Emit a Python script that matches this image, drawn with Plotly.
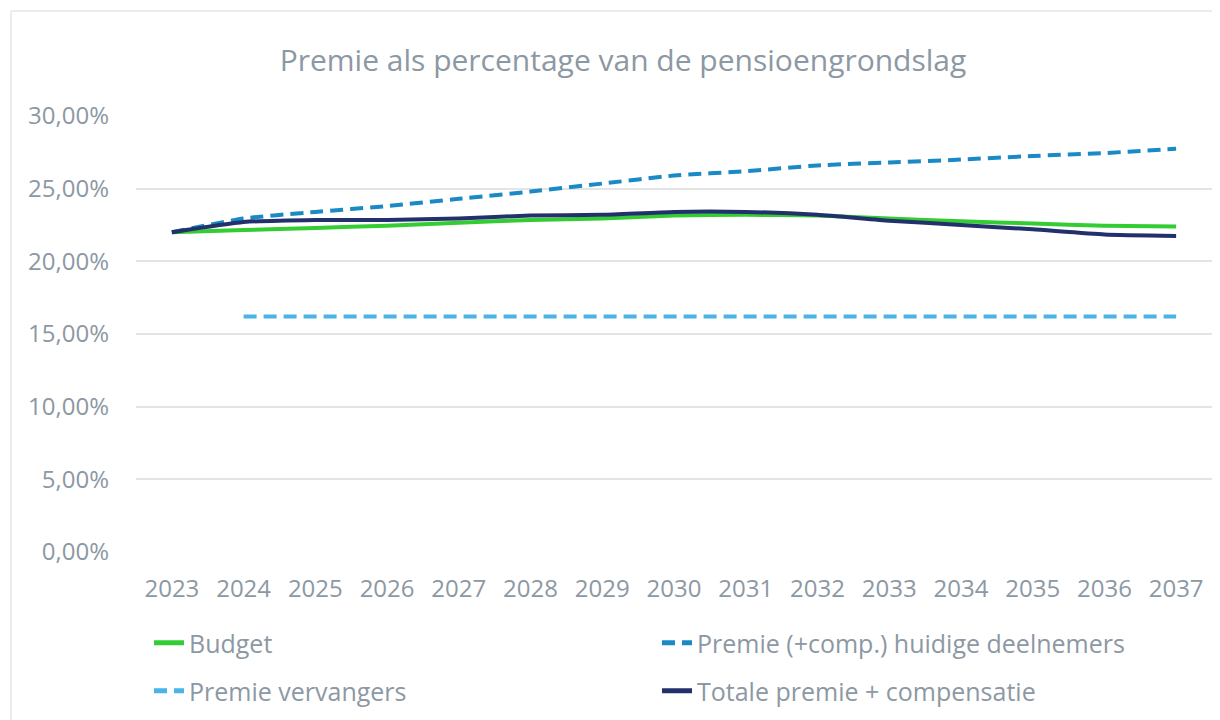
import plotly.graph_objects as go

years = [str(y) for y in range(2023, 2038)]
budget = [22.0, 22.15, 22.3, 22.45, 22.65, 22.85, 22.95, 23.15, 23.2, 23.15, 22.95, 22.75, 22.6, 22.45, 22.4]
huidige = [22.0, 22.95, 23.4, 23.8, 24.3, 24.8, 25.35, 25.9, 26.2, 26.6, 26.8, 27.0, 27.25, 27.45, 27.75]
vervangers = [None, 16.2, 16.2, 16.2, 16.2, 16.2, 16.2, 16.2, 16.2, 16.2, 16.2, 16.2, 16.2, 16.2, 16.2]
totale = [22.0, 22.7, 22.85, 22.85, 22.95, 23.15, 23.2, 23.4, 23.4, 23.2, 22.8, 22.5, 22.2, 21.85, 21.75]
yticks = [0, 5, 10, 15, 20, 25, 30]
ytext = ["0,00%", "5,00%", "10,00%", "15,00%", "20,00%", "25,00%", "30,00%"]

FONT = "Open Sans"
TXT = "#8c98a3"

fig = go.Figure()
fig.add_trace(go.Scatter(x=years, y=budget, name="Budget", mode="lines",
                         line=dict(color="#33cc33", width=4, shape="spline", smoothing=0.5),
                         legend="legend"))
fig.add_trace(go.Scatter(x=years, y=huidige, name="Premie (+comp.) huidige deelnemers", mode="lines",
                         line=dict(color="#1a8ac6", width=4, dash="13px,7px", shape="spline", smoothing=0.5),
                         legend="legend"))
fig.add_trace(go.Scatter(x=years, y=vervangers, name="Premie vervangers", mode="lines",
                         line=dict(color="#4ab4e6", width=4, dash="13px,7px"),
                         legend="legend2"))
fig.add_trace(go.Scatter(x=years, y=totale, name="Totale premie + compensatie", mode="lines",
                         line=dict(color="#22306b", width=4, shape="spline", smoothing=0.5),
                         legend="legend2"))

# page body has an 8px margin; work in screen coordinates and shift
OFF = 8
W, H = 1220, 720
SL, SR, ST, SB = 136, 1212, 116, 552   # plot area in screen px
L, T = SL - OFF, ST - OFF
R = W - (SR - OFF)
B = H - (SB - OFF)
pw, ph = W - L - R, H - T - B

def px(x):
    return (x - OFF - L) / pw

def py(y):
    return (H - B - (y - OFF)) / ph

leg_common = dict(orientation="h", entrywidth=463, entrywidthmode="pixels",
                  font=dict(family=FONT, size=25, color=TXT),
                  bgcolor="rgba(0,0,0,0)", xanchor="left", yanchor="middle",
                  itemsizing="constant")

fig.update_layout(
    width=W, height=H,
    margin=dict(l=L, r=R, t=T, b=B, autoexpand=False),
    paper_bgcolor="white", plot_bgcolor="white",
    font=dict(family=FONT, color=TXT),
    title=dict(text="Premie als percentage van de pensioengrondslag",
               x=(623 - OFF) / W, xanchor="center", xref="container",
               y=1 - (60 - OFF) / H, yanchor="middle", yref="container",
               font=dict(family=FONT, size=30, color=TXT)),
    xaxis=dict(type="category", range=[-0.5, len(years) - 0.5], showgrid=False, showline=False,
               zeroline=False, ticks="", tickfont=dict(family=FONT, size=24, color=TXT),
               ticklabelstandoff=20),
    yaxis=dict(range=[0, 30], tickvals=yticks, ticktext=ytext,
               showgrid=True, gridcolor="#e4e4e4", gridwidth=1.5, zeroline=False,
               showline=False, ticks="", tickfont=dict(family=FONT, size=24, color=TXT),
               ticklabelstandoff=26),
    legend=dict(x=px(149), y=py(643), **leg_common),
    legend2=dict(x=px(149), y=py(691), **leg_common),
    showlegend=True,
    shapes=[dict(type="rect", xref="paper", yref="paper",
                 x0=px(11), x1=px(1226), y0=py(726), y1=py(11),
                 line=dict(color="#d9d9d9", width=1), fillcolor="rgba(0,0,0,0)", layer="below")],
)

fig.write_html("out.html")
